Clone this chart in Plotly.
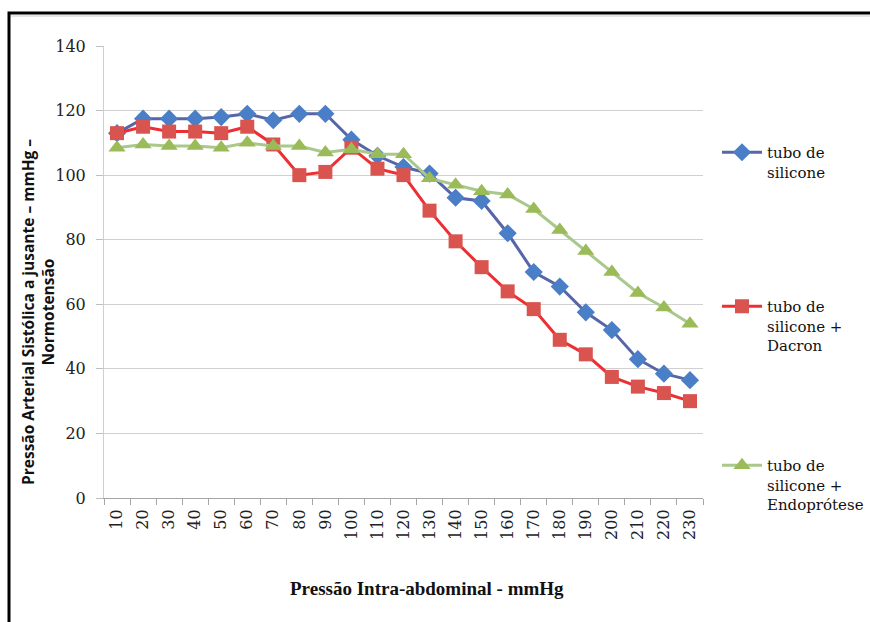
import plotly.graph_objects as go

# Intra-abdominal pressure (mmHg) categories
pressao_ia = [10, 20, 30, 40, 50, 60, 70, 80, 90, 100, 110, 120, 130, 140, 150,
              160, 170, 180, 190, 200, 210, 220, 230]
categorias = [str(v) for v in pressao_ia]

# Downstream systolic arterial pressure (mmHg) per configuration
tubo_silicone = [113, 117.5, 117.5, 117.5, 118, 119, 117, 119, 119, 111, 106, 102.5,
                 100.5, 93, 92, 82, 70, 65.5, 57.5, 52, 43, 38.5, 36.5]
tubo_dacron = [113, 115, 113.5, 113.5, 113, 115, 109.5, 100, 101, 108.5, 102, 100,
               89, 79.5, 71.5, 64, 58.5, 49, 44.5, 37.5, 34.5, 32.5, 30]
tubo_endoprotese = [108.5, 109.5, 109, 109, 108.5, 110, 109, 109, 107, 108, 106.5, 106.5,
                    99, 97, 95, 94, 89.5, 83, 76.5, 70, 63.5, 59, 54]

y_ticks = [0, 20, 40, 60, 80, 100, 120, 140]

nomes = ["tubo de<br>silicone",
         "tubo de<br>silicone +<br>Dacron",
         "tubo de<br>silicone +<br>Endoprótese"]

W, H = 870, 622
L, R, T, B = 104, 703, 46, 498  # plot area in pixels


def px(xp):
    return (xp - L) / (R - L)


def py(yp):
    return (B - yp) / (B - T)


def cx(xp):
    return xp / W


def cy(yp):
    return 1 - yp / H


SERIF = "DejaVu Serif"

fig = go.Figure()

fig.add_trace(go.Scatter(
    x=categorias, y=tubo_silicone, name=nomes[0], mode="lines+markers",
    line=dict(color="#5766A8", width=3),
    marker=dict(symbol="diamond", size=14, color="#4A7FC8",
                line=dict(color="#4A7FC8", width=0)),
    legend="legend"))

fig.add_trace(go.Scatter(
    x=categorias, y=tubo_dacron, name=nomes[1], mode="lines+markers",
    line=dict(color="#EE2E33", width=3),
    marker=dict(symbol="square", size=14, color="#D9534F",
                line=dict(color="#D9534F", width=0)),
    legend="legend2"))

fig.add_trace(go.Scatter(
    x=categorias, y=tubo_endoprotese, name=nomes[2], mode="lines+markers",
    line=dict(color="#A9C98C", width=3),
    marker=dict(symbol="triangle-up", size=15, color="#9BBB59",
                line=dict(color="#9BBB59", width=0)),
    legend="legend3"))

legend_common = dict(xref="container", yref="container",
                     xanchor="left", yanchor="top", valign="top",
                     bgcolor="rgba(0,0,0,0)", borderwidth=0,
                     font=dict(family=SERIF, size=15, color="#111111"),
                     itemwidth=40)

# Y-axis title, two lines
fig.add_annotation(
    text="<b>Pressão Arterial Sistólica a jusante – mmHg –<br>Normotensão</b>",
    xref="paper", yref="paper", x=px(38), y=py(312),
    xanchor="center", yanchor="middle", textangle=-90, showarrow=False,
    font=dict(family="Open Sans", size=15.5, color="#111111"))

# X-axis title
fig.add_annotation(
    text="<b>Pressão Intra-abdominal - mmHg</b>",
    xref="paper", yref="paper", x=px(427), y=py(588),
    xanchor="center", yanchor="middle", showarrow=False,
    font=dict(family="Liberation Serif", size=19, color="#111111"))

# Outer chart frame (top and left edges visible)
fig.add_shape(type="rect", xref="paper", yref="paper",
              x0=px(9), x1=px(900), y0=py(660), y1=py(13),
              line=dict(color="black", width=3), layer="above")
fig.add_shape(type="line", xref="paper", yref="paper",
              x0=px(11), x1=px(900), y0=py(16), y1=py(16),
              line=dict(color="#CCCCCC", width=1))

fig.update_layout(
    width=W, height=H,
    margin=dict(l=L, r=W - R, t=T, b=H - B, autoexpand=False),
    paper_bgcolor="white", plot_bgcolor="white",
    showlegend=True,
    legend=dict(x=cx(717), y=cy(136), **legend_common),
    legend2=dict(x=cx(717), y=cy(290), **legend_common),
    legend3=dict(x=cx(717), y=cy(449), **legend_common),
    xaxis=dict(
        type="category", categoryorder="array", categoryarray=categorias,
        range=[-0.5, len(categorias) - 0.5], autorange=False,
        tickson="boundaries", ticks="outside", ticklen=6, tickcolor="#A6A6A6",
        showline=True, linecolor="#A6A6A6", linewidth=1,
        showgrid=False, tickangle=-90,
        tickfont=dict(family=SERIF, size=16, color="#222222"),
        ticklabelstandoff=4),
    yaxis=dict(
        range=[0, 140], tickvals=y_ticks, ticks="outside", ticklen=7,
        tickcolor="#BFBFBF", showline=True, linecolor="#CFCFCF", linewidth=1,
        showgrid=True, gridcolor="#D0D0D0", gridwidth=1, zeroline=False,
        tickfont=dict(family=SERIF, size=16, color="#222222"),
        ticklabelstandoff=7),
)

fig.write_html("out.html")
